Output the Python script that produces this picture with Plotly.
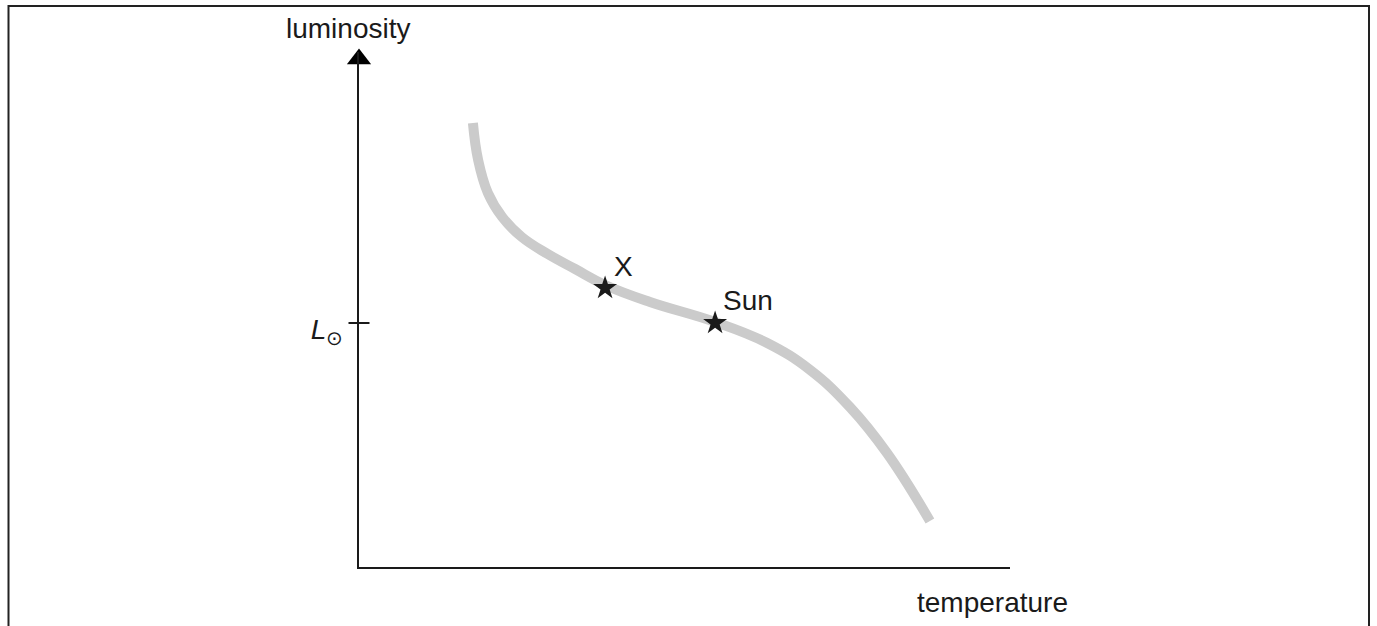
import plotly.graph_objects as go

# Main-sequence style curve (arbitrary units: temperature axis 0-10, luminosity axis 0-10.3)
curve_temp = [1.75, 1.83, 1.98, 2.20, 2.50, 2.90, 3.32, 3.78, 4.47, 5.47, 6.27, 6.93, 7.54, 8.11, 8.77]
curve_lum = [8.88, 8.14, 7.48, 7.00, 6.60, 6.26, 5.96, 5.64, 5.30, 4.90, 4.48, 3.94, 3.20, 2.28, 0.92]

star_names = ["X", "Sun"]
star_temp = [3.78, 5.47]
star_lum = [5.58, 4.88]

sun_lum = 4.88
sun_label = "<i>L</i><sub>⊙</sub>"
x_label = "temperature"
y_label = "luminosity"

W, H = 1377, 626
L, R, T, B = 359, 367, 52, 59
pw, ph = W - L - R, H - T - B


def px(x):
    return (x - L) / pw


def py(y):
    return (H - B - y) / ph


font = dict(family="Liberation Sans, Arial, sans-serif", size=28, color="#1a1a1a")

fig = go.Figure()
fig.add_trace(go.Scatter(
    x=curve_temp, y=curve_lum, mode="lines",
    line=dict(color="#cbcbcb", width=10, shape="spline", smoothing=1.2),
    hoverinfo="skip", showlegend=False))

# tick mark for L_sun crossing the axis
fig.add_trace(go.Scatter(
    x=[0], y=[sun_lum], mode="markers",
    marker=dict(symbol="line-ew", size=15, line=dict(width=2, color="#1a1a1a")),
    cliponaxis=False, showlegend=False, hoverinfo="skip"))

# arrow head at top of luminosity axis
fig.add_trace(go.Scatter(
    x=[0], y=[10.16], mode="markers",
    marker=dict(symbol="triangle-up", size=21, color="#000000"),
    cliponaxis=False, showlegend=False, hoverinfo="skip"))

fig.add_trace(go.Scatter(
    x=star_temp, y=star_lum, mode="markers",
    marker=dict(symbol="star", size=18, color="#1a1a1a", line=dict(width=0)),
    cliponaxis=False, showlegend=False, hoverinfo="skip"))

label_offsets = {"X": (0.29, 0.43), "Sun": (0.51, 0.45)}
for n, tx, ly in zip(star_names, star_temp, star_lum):
    dx, dy = label_offsets[n]
    fig.add_annotation(x=tx + dx, y=ly + dy, text=n, showarrow=False,
                       xanchor="center", yanchor="middle", font=font)

fig.add_annotation(xref="paper", yref="paper", x=px(348), y=py(29), text=y_label,
                   showarrow=False, xanchor="center", yanchor="middle", font=font)
fig.add_annotation(xref="paper", yref="paper", x=px(992), y=py(602), text=x_label,
                   showarrow=False, xanchor="center", yanchor="middle", font=font)

# outer frame
fig.add_shape(type="rect", xref="paper", yref="paper",
              x0=px(8.5), x1=px(1369), y0=py(640), y1=py(6),
              line=dict(color="#222222", width=2), fillcolor="rgba(0,0,0,0)", layer="below")

fig.update_layout(
    width=W, height=H,
    margin=dict(l=L, r=R, t=T, b=B, pad=0),
    paper_bgcolor="white", plot_bgcolor="white",
    font=font,
    xaxis=dict(range=[0, 10], showline=True, linewidth=2, linecolor="#1a1a1a",
               showgrid=False, zeroline=False, showticklabels=False, ticks=""),
    yaxis=dict(range=[0, 10.3], showline=True, linewidth=2, linecolor="#1a1a1a",
               showgrid=False, zeroline=False, ticks="",
               tickvals=[sun_lum], ticktext=[sun_label], ticklabelstandoff=8,
               ticklabelshift=6, tickfont=font),
)

fig.write_html("out.html", config={"displayModeBar": False},
               post_script="document.body.style.margin='0px';")
